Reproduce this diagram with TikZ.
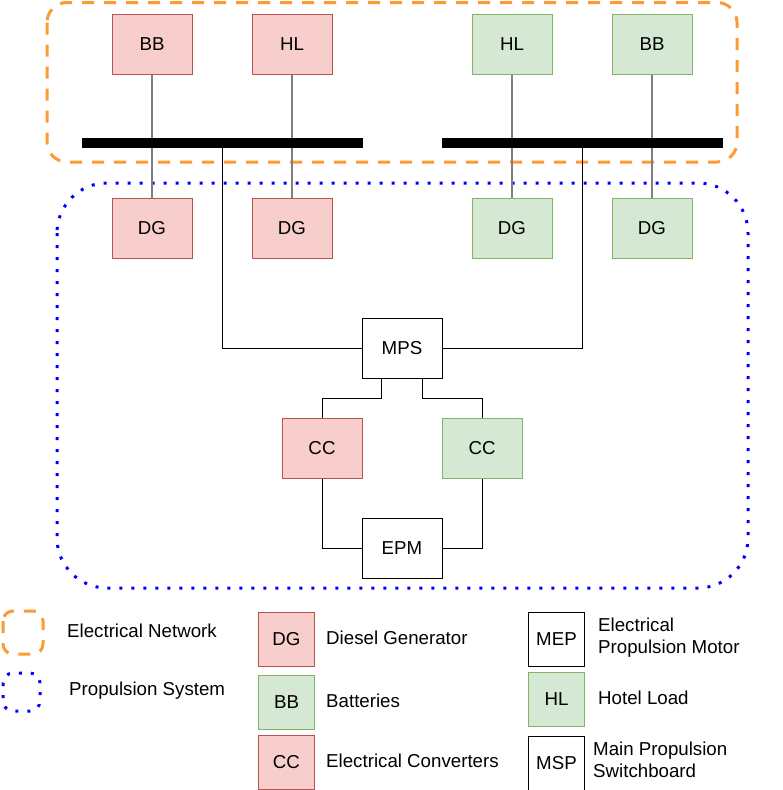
\documentclass[tikz,border=0pt]{standalone}
\usepackage{fontspec}
\setmainfont{Liberation Sans}
\usepackage{tikz}
\usetikzlibrary{arrows}

\definecolor{redfill}{HTML}{F8CECC}
\definecolor{redline}{HTML}{B85450}
\definecolor{greenfill}{HTML}{D5E8D4}
\definecolor{greenline}{HTML}{82B366}
\definecolor{netorange}{HTML}{FF9933}

\begin{document}
\begin{tikzpicture}[x=1pt,y=-1pt,
  font=\fontsize{18.7}{22}\selectfont,
  unit/.style={draw,line width=1pt,minimum width=80pt,minimum height=60pt,inner sep=0pt},
  redunit/.style={unit,draw=redline,fill=redfill},
  greenunit/.style={unit,draw=greenline,fill=greenfill},
  plainunit/.style={unit,draw=black,fill=white},
  keybox/.style={minimum width=56pt,minimum height=54pt},
  busbar/.style={fill=black,minimum width=281pt,minimum height=10pt,inner sep=0pt},
  link/.style={line width=1.5pt,draw=gray},
  wire/.style={line width=1pt,draw=black},
  netframe/.style={draw=netorange,line width=3pt,dash pattern=on 12pt off 10pt,rounded corners=20pt},
  propframe/.style={draw=blue,line width=3pt,dash pattern=on 3pt off 9pt,rounded corners=50pt},
  keytext/.style={anchor=west,inner sep=0pt,align=left}]
\useasboundingbox (0,0) rectangle (782,790);
\draw [netframe]  (47,2.5) rectangle (737,162);
\draw [propframe] (57,183) rectangle (748,588);
\node [redunit]   (bbleft)  at (152,44)  {BB};
\node [redunit]   (hlleft)  at (292,44)  {HL};
\node [greenunit] (hlright) at (512,44)  {HL};
\node [greenunit] (bbright) at (652,44)  {BB};
\node [redunit]   (dgleft1)  at (152,228) {DG};
\node [redunit]   (dgleft2)  at (292,228) {DG};
\node [greenunit] (dgright1) at (512,228) {DG};
\node [greenunit] (dgright2) at (652,228) {DG};
\node [plainunit] (mps)     at (402,348) {MPS};
\node [redunit]   (ccleft)  at (322,448) {CC};
\node [greenunit] (ccright) at (482,448) {CC};
\node [plainunit] (epm)     at (402,548) {EPM};
\draw [link] (bbleft)  to (dgleft1);
\draw [link] (hlleft)  to (dgleft2);
\draw [link] (hlright) to (dgright1);
\draw [link] (bbright) to (dgright2);
\node [busbar] (busleft)  at (222.5,143) {};
\node [busbar] (busright) at (582.5,143) {};
\draw [wire] (busleft.south)  |- (mps.west);
\draw [wire] (busright.south) |- (mps.east);
\draw [wire] ([xshift=20pt]mps.south west) -- ++(0,20) -| (ccleft.north);
\draw [wire] ([xshift=-20pt]mps.south east) -- ++(0,20) -| (ccright.north);
\draw [wire] (ccleft.south)  |- (epm.west);
\draw [wire] (ccright.south) |- (epm.east);
% legend
\draw [netframe,rounded corners=10pt]  (3,611) rectangle (43,654);
\draw [propframe,rounded corners=10pt] (3,673) rectangle (40,711);
\node [keytext] (keynet)  at (67,631) {Electrical Network};
\node [keytext] (keyprop) at (69,691) {Propulsion System};
\node [redunit,keybox]   (keydg) at (286.5,639.5) {DG};
\node [greenunit,keybox] (keybb) at (286.5,702)   {BB};
\node [redunit,keybox]   (keycc) at (286.5,762.5) {CC};
\node [keytext] (keydgtext) at (326,638) {Diesel Generator};
\node [keytext] (keybbtext) at (326,701) {Batteries};
\node [keytext] (keycctext) at (326,761) {Electrical Converters};
\node [plainunit,keybox] (keymep) at (556.5,639)   {MEP};
\node [greenunit,keybox] (keyhl)  at (556.5,699.5) {HL};
\node [plainunit,keybox] (keymsp) at (556.5,763)   {MSP};
\node [keytext] (keymeptext) at (598,638) {Electrical\\Propulsion Motor};
\node [keytext] (keyhltext)  at (598,698) {Hotel Load};
\node [keytext] (keymsptext) at (593,760) {Main Propulsion\\Switchboard};
\end{tikzpicture}
\end{document}
